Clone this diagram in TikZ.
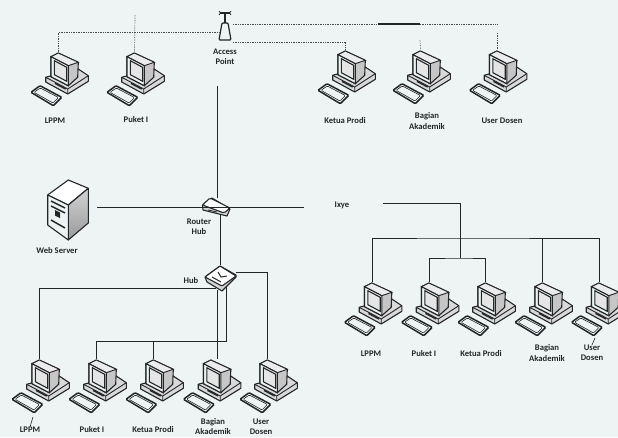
\documentclass[tikz,border=0pt]{standalone}
\usepackage{fontspec}
\setmainfont{Carlito}
\usetikzlibrary{calc,positioning}
\definecolor{kertas}{RGB}{238,243,243}
\definecolor{tinta}{RGB}{35,38,40}
\newcommand{\komputer}{%
  \draw[tinta,line width=1.1pt,fill=gray!30,line join=round] (-12.8,-3.2) -- (19,-12) -- (29.8,-4.8) -- (29.8,0.8) -- (9.2,13.5) -- (-12.8,1.5) -- cycle;
  \draw[tinta,line width=0.9pt] (-12.8,-3.2) -- (9.2,8.5) -- (29.8,-4.8) (9.2,8.5) -- (9.2,13.5);
  \draw[tinta,line width=1.5pt] (-3.5,2.8) -- (7.2,8.5);
  \draw[tinta,line width=1.1pt,fill=gray!45,line join=round] (-7.5,-23.8) -- (-0.2,-27.5) -- (19.8,-18.2) -- (19.2,-3.2) -- (9.8,5.2) -- (-7.5,-3.8) -- cycle;
  \draw[tinta,line width=0.9pt,fill=gray!15] (-7.5,-23.8) -- (-0.2,-27.5) -- (19.8,-18.2) -- (9.8,-14.8) -- cycle;
  \draw[tinta,line width=1.1pt,fill=kertas] (-7.5,-23.8) -- (9.8,-14.8) -- (9.8,5.2) -- (-7.5,-3.8) -- cycle;
  \draw[tinta,line width=1.1pt,fill=gray!20] (-4.2,-19.8) -- (8.2,-13.2) -- (8.2,0.8) -- (-4.2,-5.8) -- cycle;
  \draw[tinta,line width=1.5pt,fill=kertas,rounded corners=1pt] (-27.5,11.8) -- (-18.5,5.2) -- (3.2,16.8) -- (-5.2,25.2) -- cycle;
  \draw[tinta,line width=0.6pt,rounded corners=1pt] (-24.5,11.8) -- (-18.2,7.5) -- (0,17) -- (-5.5,22.5) -- cycle;
}
\newcommand{\routericon}{%
  \draw[tinta,line width=1.1pt,fill=gray!35,line join=round] (-13.5,-2) -- (-13,3) -- (11,9) -- (14,2) -- (-4,-9) -- cycle;
  \draw[tinta,line width=1.1pt,fill=white,rounded corners=1.5pt] (-13.5,-2) -- (-6,-9) -- (14,1) -- (8,6) -- cycle;
  \draw[tinta,line width=0.8pt] (-8,3) -- (1,5);
}
\newcommand{\hubicon}{%
  \draw[tinta,line width=1.1pt,fill=gray!35,line join=round] (-15,-1) -- (-13,4) -- (2,13) -- (16,-1) -- (16,-3) -- (0,-12) -- cycle;
  \draw[tinta,line width=1.1pt,fill=white,rounded corners=1pt] (-15,-1) -- (0,-12) -- (16,-2) -- (2,8) -- cycle;
  \draw[tinta,line width=1pt] (-8,-1) -- (1,4) (-2,-6) -- (1,-1) -- (7,-2);
}
\newcommand{\servericon}{%
  \draw[tinta,line width=1.1pt,fill=white,line join=round] (-20.3,-15) -- (0.3,-30) -- (20.3,-21.7) -- (0.3,-5) -- cycle;
  \shade[top color=gray!35,bottom color=gray!80] (0.3,-5) -- (20.3,-21.7) -- (20.3,13) -- (0.3,30) -- cycle;
  \draw[tinta,line width=1.1pt,line join=round] (0.3,-5) -- (20.3,-21.7) -- (20.3,13) -- (0.3,30) -- cycle;
  \draw[tinta,line width=1.1pt,fill=kertas,line join=round] (-20.3,-15) -- (0.3,-5) -- (0.3,30) -- (-20.3,15) -- cycle;
  \draw[tinta,line width=1.5pt] (-17,-9) -- (-3,-2) (-17,-4) -- (-3,3) (-17,10) -- (-3,18);
  \fill[tinta] (-13,0) -- (-8,2.5) -- (-8,8) -- (-13,5.5) -- cycle;
}
\newcommand{\apicon}{%
  \draw[tinta,line width=1.2pt,fill=kertas,rounded corners=1pt] (-3,-3) -- (3,-3) -- (6,14) -- (-6,14) -- cycle;
  \draw[tinta,line width=1.4pt] (0,-3) -- (0,-13) (-5,-13) -- (5,-13);
  \draw[tinta,line width=0.8pt] (-6,-15) -- (-4.5,-13) -- (-6,-11) (6,-15) -- (4.5,-13) -- (6,-11);
}
\tikzset{
  pcbox/.style={minimum width=61pt,minimum height=57pt,inner sep=0pt,outer sep=0pt,path picture={\komputer}},
  routerbox/.style={minimum width=32pt,minimum height=22pt,inner sep=0pt,outer sep=0pt,path picture={\routericon}},
  hubbox/.style={minimum width=36pt,minimum height=30pt,inner sep=0pt,outer sep=0pt,path picture={\hubicon}},
  serverbox/.style={minimum width=44pt,minimum height=62pt,inner sep=0pt,outer sep=0pt,path picture={\servericon}},
  apbox/.style={minimum width=16pt,minimum height=32pt,inner sep=0pt,outer sep=0pt,path picture={\apicon}},
  lbl/.style={font=\fontsize{8.6}{10.2}\selectfont\bfseries,text=tinta,align=center,inner sep=0pt},
  kabel/.style={tinta,line width=1pt},
  nirkabel/.style={gray!60!black,line width=0.7pt,densely dotted}
}
\begin{document}
\begin{tikzpicture}[x=1pt,y=-1pt]
\useasboundingbox[fill=kertas] (0,0) rectangle (618,437);
% perangkat jaringan
\node[apbox] (ap) at (225,26) {};
\node[routerbox] (router) at (216,207) {};
\node[hubbox] (hub) at (220,278) {};
\node[serverbox] (server) at (68,210) {};
% komputer baris atas
\node[pcbox] (lppmA) at (58.5,80.5) {};
\node[pcbox] (puketA) at (134.5,80.5) {};
\node[pcbox] (ketuaA) at (345.5,78.5) {};
\node[pcbox] (bagianA) at (420.5,78.5) {};
\node[pcbox] (userA) at (497,78.5) {};
% komputer kiri bawah
\node[pcbox] (lppmB) at (39.5,387.5) {};
\node[pcbox] (puketB) at (96.5,387.5) {};
\node[pcbox] (ketuaB) at (153.5,387.5) {};
\node[pcbox] (bagianB) at (211,387.5) {};
\node[pcbox] (userB) at (267.5,387.5) {};
% komputer kanan bawah
\node[pcbox] (lppmC) at (372,310.5) {};
\node[pcbox] (puketC) at (429,310.5) {};
\node[pcbox] (ketuaC) at (485.5,310.5) {};
\node[pcbox] (bagianC) at (542.5,310.5) {};
\node[pcbox] (userC) at (599,310.5) {};
% label
\node[lbl] (apL) at (225,57) {Access\\Point};
\node[lbl] (routerL) at (199,226.5) {Router\\Hub};
\node[lbl] (hubL) at (191,281) {Hub};
\node[lbl] (serverL) at (57,251) {Web Server};
\node[lbl] (ixye) at (342,205) {Ixye};
\node[lbl] (lppmAL) at (55,121) {LPPM};
\node[lbl] (puketAL) at (136,120) {Puket I};
\node[lbl] (ketuaAL) at (345,121) {Ketua Prodi};
\node[lbl] (bagianAL) at (427,121) {Bagian\\Akademik};
\node[lbl] (userAL) at (502,121) {User Dosen};
\node[lbl] (lppmBL) at (30,430) {LPPM};
\node[lbl] (puketBL) at (92,430) {Puket I};
\node[lbl] (ketuaBL) at (153,430) {Ketua Prodi};
\node[lbl] (bagianBL) at (213,426.5) {Bagian\\Akademik};
\node[lbl] (userBL) at (261,426.5) {User\\Dosen};
\node[lbl] (lppmCL) at (371,354) {LPPM};
\node[lbl] (puketCL) at (424,354) {Puket I};
\node[lbl] (ketuaCL) at (481,354) {Ketua Prodi};
\node[lbl] (bagianCL) at (547,353) {Bagian\\Akademik};
\node[lbl] (userCL) at (592,353) {User\\Dosen};
% titik bantu
\coordinate (apKiri) at (219,32);
\coordinate (apBawah) at (217,86);
\coordinate (routerAtas) at (217,198);
\coordinate (routerBawah) at (220,215);
\coordinate (hubAtas) at (220,265);
\coordinate (simpulA) at (135,32);
\coordinate (simpulB) at (420,24);
\coordinate (simpulC) at (378,24);
\coordinate (ujungA) at (497,24);
\coordinate (atasA) at (420,40);
\coordinate (atasB) at (497,33);
\coordinate (atasC) at (135,15);
\coordinate (serverKanan) at (97,207);
\coordinate (ujungB) at (304,207);
\coordinate (hubKiri) at (216,288);
\coordinate (hubKanan) at (236,272);
\coordinate (hubA) at (217,290);
\coordinate (hubB) at (226,286);
\coordinate (keTengah) at (383,203);
\coordinate (siku) at (460.5,203);
\coordinate (tengahA) at (460.5,238);
\coordinate (tengahB) at (460.5,258);
\coordinate (keyA) at (33,417);
\coordinate (keyC) at (595,338);
% nirkabel
\draw[nirkabel] (lppmA.north) -- (lppmA.north |- apKiri) -- (apKiri);
\draw[nirkabel] (atasC) -- (puketA.north);
\draw[nirkabel] (ap.east |- simpulC) -- (simpulC);
\draw[tinta,line width=1.1pt] (simpulC) -- (simpulB);
\draw[nirkabel] (simpulB) -- (ujungA);
\draw[nirkabel] (ap.south east) -| (ketuaA.north);
\draw[nirkabel] (atasA) -- (bagianA.north);
\draw[nirkabel] (atasB) -- (userA.north);
% kabel router dan hub
\draw[kabel] (apBawah) -- (routerAtas);
\draw[kabel] (serverKanan) -- (ujungB);
\draw[kabel] (routerBawah) -- (hubAtas);
\draw[kabel] (hubKiri) -| (lppmB.north);
\draw[kabel] (hubKanan) -| (userB.north);
\draw[kabel] (hubA) -- (hubA |- bagianB.north);
\draw[kabel] (hubB) |- (puketB.north |- 0,341) -- (puketB.north);
\draw[kabel] (ketuaB.north |- 0,341) -- (ketuaB.north);
% kabel kanan
\draw[kabel] (keTengah) -- (siku) -- (tengahB);
\draw[kabel] (lppmC.north) |- (tengahA) -- (userC.north |- tengahA) -- (userC.north);
\draw[kabel] (bagianC.north |- tengahA) -- (bagianC.north);
\draw[kabel] (puketC.north) |- (tengahB) -| (ketuaC.north);
% garis kecil
\draw[kabel,line width=0.6pt] (keyA) -- (lppmBL.north);
\draw[kabel,line width=0.6pt] (keyC) -- (userCL.north);
\end{tikzpicture}
\end{document}
